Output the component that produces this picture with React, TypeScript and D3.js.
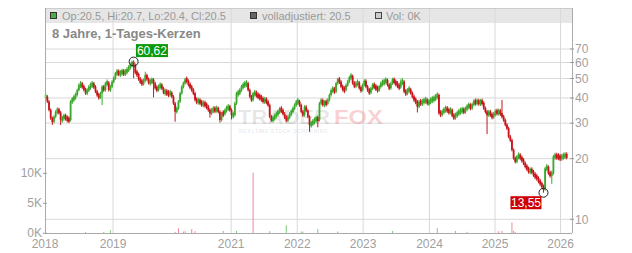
import React from "react";
import * as d3 from "d3";

// Closing prices, one per candle (sequential trading-period index)
const closes: number[] = [
  40.6, 38.4, 34.9, 31.7, 30.5, 32.3, 34.2, 34.9, 33.9, 31.1,
  31.7, 32.6, 31.7, 31.3, 31.1, 38.4, 39.4, 40.3, 41.4, 43.8,
  46.4, 46.9, 45.5, 44.2, 42.2, 43.8, 45.2, 46.4, 46.9, 45.5,
  43.0, 41.4, 40.3, 42.2, 45.5, 43.8, 47.3, 47.7, 43.8, 45.5,
  48.2, 50.1, 53.0, 54.0, 52.6, 53.4, 54.0, 53.0, 54.0, 55.1,
  56.8, 58.3, 59.8, 58.3, 53.4, 52.6, 49.5, 48.2, 47.3, 48.7,
  52.0, 49.5, 47.7, 48.2, 49.1, 47.3, 44.7, 44.2, 45.5, 46.4,
  44.7, 42.5, 43.0, 42.2, 41.9, 42.5, 40.6, 37.6, 34.2, 35.5,
  38.4, 42.2, 45.5, 47.3, 49.5, 48.7, 46.4, 45.5, 43.8, 42.2,
  39.1, 38.4, 38.8, 37.9, 37.3, 37.6, 36.9, 36.2, 34.9, 33.6,
  34.9, 35.1, 34.9, 35.5, 34.2, 31.1, 33.6, 33.3,
  34.9, 35.5, 36.2, 34.9, 32.9, 32.9, 37.6, 42.2, 42.2, 43.8,
  45.5, 46.4, 46.9, 47.3, 43.8, 40.6, 39.1, 42.2, 42.2, 41.4,
  40.6, 40.3, 39.4, 38.7, 39.1, 38.4, 36.9, 32.3, 31.1, 31.7,
  32.6, 33.3, 34.2, 35.1, 34.9, 33.3, 32.1, 31.1, 32.1, 33.3,
  34.2, 35.5, 36.9, 38.4, 38.4, 36.9, 34.2, 32.9, 36.2, 34.6,
  32.3, 29.4, 29.9, 30.5, 31.1, 31.7, 31.1, 37.6, 39.1, 36.9,
  38.0, 37.6, 39.1, 41.4, 43.8, 44.2, 43.0, 47.3, 49.5, 48.2,
  45.5, 44.2, 43.8, 46.4, 48.2, 50.7, 51.4, 47.3, 45.9, 47.3,
  47.7, 44.7, 43.8, 46.4, 48.7, 45.5, 43.8, 42.5, 44.7, 46.4,
  45.5, 44.7, 43.8, 45.5, 47.3, 47.7, 48.2, 49.1, 46.4, 44.7,
  47.3, 49.5, 47.7, 47.3, 45.9, 45.2,
  48.2, 48.2, 43.0, 42.2, 43.8, 44.2, 42.2, 40.6, 39.1, 38.4,
  36.2, 38.4, 37.6, 38.4, 38.8, 39.1, 37.6, 38.4, 39.1, 39.4,
  39.8, 40.6, 41.4,
  33.6, 33.3, 34.2, 34.9, 35.5, 34.6, 34.2, 34.9, 32.6, 32.1,
  32.9, 33.6, 34.2, 34.6, 34.9, 34.2, 35.5, 36.2, 36.9, 35.5,
  37.3, 38.4, 37.9, 38.6, 37.6, 38.4, 37.9, 35.5, 34.2, 32.9,
  34.2, 32.9, 32.3, 33.3, 34.2, 33.9, 34.2, 33.6, 32.3, 31.1,
  29.4, 28.3, 25.7, 24.7, 22.1, 20.1, 19.3, 20.5, 20.8, 20.1,
  19.7, 19.0, 18.2, 17.9, 17.2, 17.6, 17.2, 16.6, 16.3, 16.0,
  15.4, 15.1, 14.5,
  14.1,
  17.9, 18.2, 16.9, 16.6, 16.9,
  20.5,
  20.6, 20.5, 20.4, 20.1, 20.5, 20.6, 20.8, 20.5,
];

// Notable intraday extremes: [candle index, price]
const wickHighs: [number, number][] = [
  [53, 60.62], [60, 54.0], [121, 47.7], [214, 49.5], [236, 42.5], [275, 39.1],
];
const wickLows: [number, number][] = [
  [4, 29.4], [9, 29.4], [34, 36.9], [53, 50.1], [65, 40.3], [78, 30.5],
  [99, 32.0], [105, 30.2], [112, 31.3], [159, 27.2], [164, 28.6],
  [224, 33.9], [266, 26.5], [300, 13.55], [305, 15.0],
];

// Volume (thousands): [candle index, volume]
const volUp: [number, number][] = [
  [24, 0.2], [35, 0.25], [39, 0.5], [78, 0.25], [107, 0.4], [115, 0.4],
  [135, 0.35], [145, 1.35], [154, 0.3], [155, 0.3], [164, 0.7], [176, 0.3],
  [209, 0.4], [236, 0.85], [247, 0.4], [282, 0.4],
];
const volDown: [number, number][] = [
  [80, 0.85], [83, 0.3], [84, 0.35], [88, 0.7], [90, 0.35], [125, 10.1],
  [254, 0.25], [273, 0.35], [275, 0.4], [281, 1.8], [283, 0.2],
];

const yearLabels = ["2018", "2019", "2021", "2022", "2023", "2024", "2025", "2026"];
const yearIndex = [-0.4, 40.6, 111.8, 151.6, 191.3, 231.3, 270.8, 310.3];
const priceTicks = [10, 20, 30, 40, 50, 60, 70];
const volTicks = [0, 5, 10];

const title = "8 Jahre, 1-Tages-Kerzen";
const legendOHLC = "Op:20.5, Hi:20.7, Lo:20.4, Cl:20.5";
const legendAdj = "volladjustiert: 20.5";
const legendVol = "Vol: 0K";

const FONT = "'Liberation Sans', Arial, Helvetica, sans-serif";
const GREEN = "#3aa82c";
const RED = "#c8141a";
const GRID = "#d9d9d9";
const TXT = "#a0a0a0";

export default function App() {
  const L = 45, R = 572, T = 8, B = 233;
  const n = closes.length;
  const x = d3.scaleLinear().domain([0, n - 1]).range([45.7, 566.7]);
  const y = d3.scaleLog().domain([10, 100]).range([219.3, 17.8]);
  const yv = d3.scaleLinear().domain([0, 10]).range([233.3, 173.3]);

  const hiMap = new Map(wickHighs);
  const loMap = new Map(wickLows);
  const candles = closes.map((c, i) => {
    const o = i === 0 ? c : closes[i - 1];
    const h = Math.max(o, c, hiMap.get(i) ?? -Infinity);
    const l = Math.min(o, c, loMap.get(i) ?? Infinity);
    return { i, o, c, h, l };
  });
  const top = candles.reduce((a, b) => (b.h > a.h ? b : a));
  const bot = candles.reduce((a, b) => (b.l < a.l ? b : a));
  const fmt = (v: number) => d3.format(".2f")(v).replace(".", ",");

  const hx = x(top.i), hy = y(top.h);
  const lx = x(bot.i), ly = y(bot.l);

  return (
    <svg width={632} height={253} style={{ position: "absolute", left: 0, top: 0 }} fontFamily={FONT}>
      <rect x={0} y={0} width={632} height={253} fill="#fff" />
      {/* legend band */}
      <rect x={L} y={T} width={R - L} height={15} fill="#e6e6e6" />
      {/* grid */}
      {yearIndex.slice(1).map((v, k) => (
        <line key={"vg" + k} x1={x(v)} x2={x(v)} y1={T} y2={B} stroke={GRID} strokeWidth={1} />
      ))}
      {priceTicks.map((p) => (
        <line key={"hg" + p} x1={L} x2={R} y1={y(p)} y2={y(p)} stroke={GRID} strokeWidth={1} />
      ))}
      <line x1={L} x2={R} y1={T + 0.5} y2={T + 0.5} stroke="#cccccc" />

      {/* watermark */}
      <g fontWeight="bold">
        <text x={238} y={123.5} fontSize={21} textLength={92} lengthAdjust="spacingAndGlyphs" fill="#000" fillOpacity={0.1}>TRADER</text>
        <text x={334} y={123.5} fontSize={21} textLength={49} lengthAdjust="spacingAndGlyphs" fill="#e8303a" fillOpacity={0.22}>FOX</text>
        <text x={239} y={132.5} fontSize={5.5} textLength={89} lengthAdjust="spacing" fill="#000" fillOpacity={0.1}>REALTIME STOCK SCREENING</text>
      </g>

      {/* volume */}
      {volUp.map(([i, v], k) => (
        <rect key={"vu" + k} x={x(i) - 0.5} y={yv(v)} width={1} height={yv(0) - yv(v)} fill="#7fcb7f" />
      ))}
      {volDown.map(([i, v], k) => (
        <rect key={"vd" + k} x={x(i) - 0.5} y={yv(v)} width={1} height={yv(0) - yv(v)} fill="#f0899a" />
      ))}

      {/* candles */}
      {candles.map((d) => {
        const up = d.c >= d.o;
        const col = up ? GREEN : RED;
        const y1 = y(Math.max(d.o, d.c));
        const y2 = y(Math.min(d.o, d.c));
        const mid = (y1 + y2) / 2;
        const hgt = Math.max(4, y2 - y1);
        const wTop = Math.min(y(d.h), mid - hgt / 2 - 1.5);
        const wBot = Math.max(y(d.l), mid + hgt / 2 + 1.5);
        return (
          <g key={"c" + d.i}>
            <line x1={x(d.i)} x2={x(d.i)} y1={wTop} y2={wBot} stroke={col} strokeWidth={1} />
            <rect x={x(d.i) - 0.9} y={mid - hgt / 2} width={1.8} height={hgt} fill={col} />
          </g>
        );
      })}

      {/* axes */}
      <line x1={L + 0.5} x2={L + 0.5} y1={T} y2={B} stroke="#aaaaaa" />
      <line x1={R + 0.5} x2={R + 0.5} y1={T} y2={B} stroke="#aaaaaa" />
      <line x1={L} x2={R} y1={B + 0.5} y2={B + 0.5} stroke="#aaaaaa" />
      {priceTicks.map((p) => (
        <g key={"pt" + p}>
          <line x1={R - 2} x2={R + 2} y1={y(p)} y2={y(p)} stroke="#999" />
          <text x={575} y={y(p)} dy="0.35em" fontSize={12} fill={TXT}>{p}</text>
        </g>
      ))}
      {volTicks.map((v) => (
        <g key={"vt" + v}>
          <line x1={L - 2} x2={L + 2} y1={yv(v)} y2={yv(v)} stroke="#999" />
          <text x={42} y={yv(v) - 0.5} dy="0.35em" fontSize={12} fill={TXT} textAnchor="end">{v + "K"}</text>
        </g>
      ))}
      {yearLabels.map((lab, k) => (
        <text key={"yl" + k} x={x(yearIndex[k])} y={248} fontSize={12} fill={TXT} textAnchor="middle">{lab}</text>
      ))}

      {/* annotations */}
      <circle cx={hx} cy={hy} r={4.5} fill="none" stroke="#222" strokeWidth={1} />
      <rect x={hx + 2.3} y={hy - 17.5} width={32} height={13} fill="#0a990a" />
      <text x={hx + 18.3} y={hy - 6.7} fontSize={12} fill="#fff" textAnchor="middle">{fmt(top.h)}</text>
      <circle cx={lx} cy={ly} r={4.5} fill="none" stroke="#222" strokeWidth={1} />
      <rect x={lx - 33} y={ly + 3.5} width={31} height={13} fill="#cc0000" />
      <text x={lx - 17.5} y={ly + 14.3} fontSize={12} fill="#fff" textAnchor="middle">{fmt(bot.l)}</text>

      {/* legend */}
      <rect x={50.5} y={12.5} width={6} height={6} fill="#4cb040" stroke="#333" strokeWidth={1} />
      <text x={62} y={19.5} fontSize={11} fill="#999">{legendOHLC}</text>
      <rect x={250.5} y={12.5} width={6} height={6} fill="#666" stroke="#333" strokeWidth={1} />
      <text x={262} y={19.5} fontSize={11} fill="#999">{legendAdj}</text>
      <rect x={375.5} y={12.5} width={6} height={6} fill="#ccc" stroke="#444" strokeWidth={1} />
      <text x={386} y={19.5} fontSize={11} fill="#999">{legendVol}</text>

      {/* title */}
      <text x={52} y={38} fontSize={13} fontWeight="bold" fill="#888">{title}</text>
    </svg>
  );
}
